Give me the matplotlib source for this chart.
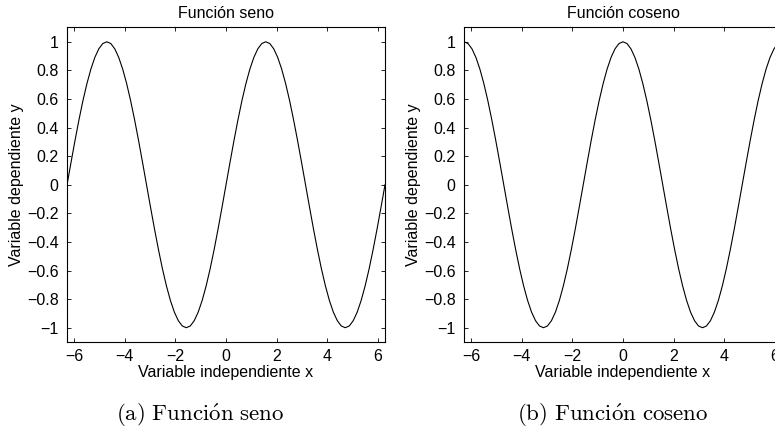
import matplotlib
matplotlib.use('Agg')
import matplotlib.pyplot as plt

plt.rcParams['font.family'] = ['Liberation Sans', 'DejaVu Sans']
plt.rcParams['mathtext.fontset'] = 'cm'

# sample points, step pi/20 over [-2pi, 2pi]
x = [-6.283, -6.126, -5.969, -5.812, -5.655, -5.498, -5.341, -5.184, -5.027, -4.869,
     -4.712, -4.555, -4.398, -4.241, -4.084, -3.927, -3.770, -3.613, -3.456, -3.299,
     -3.142, -2.985, -2.827, -2.670, -2.513, -2.356, -2.199, -2.042, -1.885, -1.728,
     -1.571, -1.414, -1.257, -1.100, -0.942, -0.785, -0.628, -0.471, -0.314, -0.157,
     0.0, 0.157, 0.314, 0.471, 0.628, 0.785, 0.942, 1.100, 1.257, 1.414,
     1.571, 1.728, 1.885, 2.042, 2.199, 2.356, 2.513, 2.670, 2.827, 2.985,
     3.142, 3.299, 3.456, 3.613, 3.770, 3.927, 4.084, 4.241, 4.398, 4.555,
     4.712, 4.869, 5.027, 5.184, 5.341, 5.498, 5.655, 5.812, 5.969, 6.126,
     6.283]

seno = [0.0, 0.156, 0.309, 0.454, 0.588, 0.707, 0.809, 0.891, 0.951, 0.988,
        1.0, 0.988, 0.951, 0.891, 0.809, 0.707, 0.588, 0.454, 0.309, 0.156,
        0.0, -0.156, -0.309, -0.454, -0.588, -0.707, -0.809, -0.891, -0.951, -0.988,
        -1.0, -0.988, -0.951, -0.891, -0.809, -0.707, -0.588, -0.454, -0.309, -0.156,
        0.0, 0.156, 0.309, 0.454, 0.588, 0.707, 0.809, 0.891, 0.951, 0.988,
        1.0, 0.988, 0.951, 0.891, 0.809, 0.707, 0.588, 0.454, 0.309, 0.156,
        0.0, -0.156, -0.309, -0.454, -0.588, -0.707, -0.809, -0.891, -0.951, -0.988,
        -1.0, -0.988, -0.951, -0.891, -0.809, -0.707, -0.588, -0.454, -0.309, -0.156,
        0.0]

coseno = [1.0, 0.988, 0.951, 0.891, 0.809, 0.707, 0.588, 0.454, 0.309, 0.156,
          0.0, -0.156, -0.309, -0.454, -0.588, -0.707, -0.809, -0.891, -0.951, -0.988,
          -1.0, -0.988, -0.951, -0.891, -0.809, -0.707, -0.588, -0.454, -0.309, -0.156,
          0.0, 0.156, 0.309, 0.454, 0.588, 0.707, 0.809, 0.891, 0.951, 0.988,
          1.0, 0.988, 0.951, 0.891, 0.809, 0.707, 0.588, 0.454, 0.309, 0.156,
          0.0, -0.156, -0.309, -0.454, -0.588, -0.707, -0.809, -0.891, -0.951, -0.988,
          -1.0, -0.988, -0.951, -0.891, -0.809, -0.707, -0.588, -0.454, -0.309, -0.156,
          0.0, 0.156, 0.309, 0.454, 0.588, 0.707, 0.809, 0.891, 0.951, 0.988,
          1.0]

xticks = [-6, -4, -2, 0, 2, 4, 6]
xticklabels = ['\u22126', '\u22124', '\u22122', '0', '2', '4', '6']
yticks = [-1, -0.8, -0.6, -0.4, -0.2, 0, 0.2, 0.4, 0.6, 0.8, 1]
yticklabels = ['\u22121', '\u22120.8', '\u22120.6', '\u22120.4', '\u22120.2', '0',
               '0.2', '0.4', '0.6', '0.8', '1']

titles = ['Funci\u00f3n seno', 'Funci\u00f3n coseno']
captions = [r'$\mathrm{(a)\ Funci\acute{o}n\ seno}$',
            r'$\mathrm{(b)\ Funci\acute{o}n\ coseno}$']

fig = plt.figure(figsize=(7.75, 4.29), dpi=100)

ax1 = fig.add_axes([0.0865, 0.2028, 0.4103, 0.7331])
ax2 = fig.add_axes([0.5987, 0.2028, 0.4103, 0.7331])

for ax, y, title in zip([ax1, ax2], [seno, coseno], titles):
    ax.plot(x, y, color='black', linewidth=0.8)
    ax.set_xlim(-6.2832, 6.2832)
    ax.set_ylim(-1.1, 1.1)
    ax.set_xticks(xticks)
    ax.set_xticklabels(xticklabels)
    ax.set_yticks(yticks)
    ax.set_yticklabels(yticklabels)
    ax.tick_params(direction='in', length=2.8, width=0.6, top=True, right=True,
                   labelsize=11.5, colors='black')
    ax.tick_params(axis='x', pad=5)
    ax.tick_params(axis='y', pad=6)
    for spine in ax.spines.values():
        spine.set_linewidth(0.8)
    ax.set_title(title, fontsize=11.5, pad=6.5)
    ax.set_xlabel('Variable independiente x', fontsize=11.5, labelpad=1)
    ax.set_ylabel('Variable dependiente y', fontsize=11.5, labelpad=2)

fig.text(200 / 775, 1 - 415 / 429, captions[0], fontsize=16.5, ha='center', va='center')
fig.text(613 / 775, 1 - 415 / 429, captions[1], fontsize=16.5, ha='center', va='center')

fig.savefig('out.png', dpi=100)
